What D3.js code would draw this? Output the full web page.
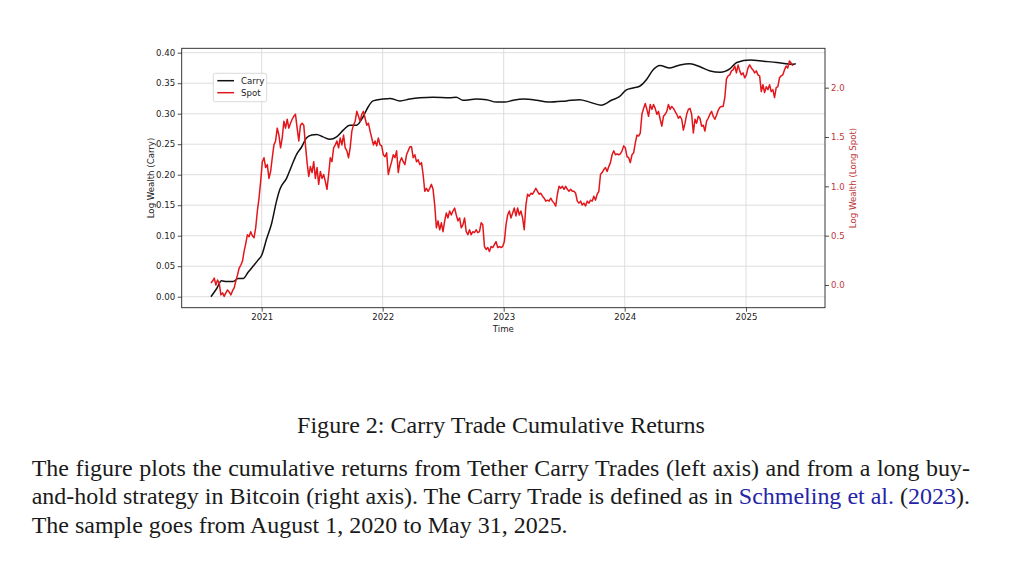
<!DOCTYPE html>
<html>
<head>
<meta charset="utf-8">
<script src="https://cdn.jsdelivr.net/npm/d3@7"></script>
<style>
  body { margin: 0; background: #fff; }
</style>
</head>
<body>
<svg id="chart" width="1024" height="570"></svg>
<script>
// carry trade log wealth (left axis)
const carry = [
  ["2020-08-01", 0.000], ["2020-08-18", 0.013], ["2020-09-02", 0.026], ["2020-09-17", 0.025],
  ["2020-10-07", 0.025], ["2020-10-22", 0.030], ["2020-11-06", 0.030], ["2020-11-21", 0.040],
  ["2020-12-06", 0.050], ["2020-12-21", 0.060], ["2021-01-01", 0.068], ["2021-01-16", 0.095],
  ["2021-01-31", 0.120], ["2021-02-15", 0.157], ["2021-02-25", 0.176], ["2021-03-17", 0.194],
  ["2021-04-01", 0.214], ["2021-04-16", 0.233], ["2021-05-01", 0.245], ["2021-05-16", 0.260],
  ["2021-06-01", 0.265], ["2021-06-16", 0.266], ["2021-07-05", 0.262], ["2021-07-26", 0.258],
  ["2021-08-15", 0.262], ["2021-09-04", 0.273], ["2021-09-24", 0.281], ["2021-10-14", 0.281],
  ["2021-11-03", 0.295], ["2021-11-18", 0.311], ["2021-12-03", 0.321], ["2022-01-02", 0.324],
  ["2022-01-23", 0.325], ["2022-02-22", 0.321], ["2022-03-24", 0.324], ["2022-04-23", 0.326],
  ["2022-06-02", 0.327], ["2022-07-22", 0.326], ["2022-08-11", 0.327], ["2022-08-31", 0.322],
  ["2022-10-11", 0.324], ["2022-11-10", 0.323], ["2022-12-10", 0.319], ["2023-01-04", 0.319],
  ["2023-01-30", 0.322], ["2023-03-01", 0.324], ["2023-04-10", 0.322], ["2023-05-15", 0.319],
  ["2023-07-09", 0.321], ["2023-08-18", 0.323], ["2023-09-17", 0.319], ["2023-10-22", 0.314],
  ["2023-11-22", 0.322], ["2023-12-16", 0.328], ["2024-01-06", 0.339], ["2024-01-26", 0.342],
  ["2024-02-15", 0.345], ["2024-03-07", 0.356], ["2024-03-27", 0.372], ["2024-04-16", 0.379],
  ["2024-05-16", 0.375], ["2024-06-16", 0.380], ["2024-07-16", 0.382], ["2024-08-15", 0.377],
  ["2024-09-15", 0.370], ["2024-10-15", 0.368], ["2024-11-14", 0.374], ["2024-12-04", 0.384],
  ["2025-01-14", 0.388], ["2025-02-23", 0.386], ["2025-04-04", 0.384], ["2025-05-19", 0.381],
  ["2025-05-31", 0.382]
];

// long spot log wealth (right axis), one reading every 5 days from spotStart
const spotStart = "2020-08-01";
const spotStepDays = 5;
const spot = [
  0.02, 0.04, 0.07, 0.00, 0.05, 0.02, -0.10, -0.08, -0.115, -0.08, -0.05, -0.07, -0.10, -0.06,
  -0.03, 0.04, 0.10, 0.17, 0.20, 0.24, 0.34, 0.42, 0.51, 0.49, 0.54, 0.50, 0.48, 0.58, 0.75,
  0.88, 1.05, 1.25, 1.29, 1.19, 1.22, 1.08, 1.15, 1.29, 1.42, 1.46, 1.59, 1.52, 1.39, 1.49,
  1.66, 1.59, 1.68, 1.59, 1.64, 1.68, 1.71, 1.73, 1.59, 1.46, 1.62, 1.64,
  1.62, 1.42, 1.24, 1.10, 1.20, 1.14, 1.25, 1.08, 1.19, 1.02, 1.15, 1.08, 1.12, 1.05, 0.97,
  1.12, 1.29, 1.25, 1.39, 1.42, 1.46, 1.39, 1.49, 1.42, 1.52, 1.39, 1.36, 1.29, 1.39, 1.56,
  1.62, 1.66, 1.76, 1.71, 1.66, 1.73, 1.76, 1.69, 1.62, 1.64, 1.56, 1.49, 1.42, 1.46, 1.41,
  1.49, 1.42, 1.41, 1.32, 1.30, 1.34, 1.12, 1.19, 1.25, 1.32, 1.29, 1.36, 1.14, 1.25, 1.29,
  1.25, 1.22, 1.32, 1.36, 1.40, 1.40,
  1.29, 1.32, 1.25, 1.27, 1.22, 1.24, 1.12, 0.95, 0.98, 0.95, 0.98, 1.02, 0.97, 0.81, 0.58,
  0.65, 0.56, 0.63, 0.54, 0.65, 0.73, 0.68, 0.75, 0.71, 0.75, 0.78, 0.71, 0.65, 0.68, 0.58,
  0.61, 0.68, 0.54, 0.51, 0.56, 0.51, 0.54, 0.53, 0.56, 0.53, 0.54, 0.63, 0.61, 0.39, 0.36,
  0.38, 0.34, 0.39, 0.38, 0.41, 0.44, 0.38, 0.39, 0.38, 0.39, 0.44, 0.61, 0.71, 0.75, 0.68,
  0.73, 0.78, 0.70, 0.78,
  0.71, 0.75, 0.68, 0.56, 0.81, 0.92, 0.90, 0.93, 0.92, 0.95, 0.98, 0.95, 0.92, 0.93, 0.90,
  0.88, 0.85, 0.86, 0.85, 0.88, 0.85, 0.83, 0.80, 0.92, 1.00, 0.98, 1.00, 0.97, 1.00, 0.97,
  0.95, 0.97, 0.95, 0.95, 0.93, 0.85, 0.83, 0.85, 0.81, 0.83, 0.80, 0.85, 0.83, 0.86, 0.85,
  0.90, 0.86, 0.92, 0.95, 1.12, 1.14, 1.17, 1.19, 1.15, 1.20, 1.24, 1.32, 1.36, 1.32, 1.33,
  1.32, 1.33, 1.36,
  1.41, 1.39, 1.30, 1.29, 1.24, 1.32, 1.34, 1.44, 1.52, 1.51, 1.54, 1.73, 1.79, 1.84, 1.78,
  1.71, 1.83, 1.78, 1.83, 1.79, 1.73, 1.76, 1.68, 1.61, 1.71, 1.73, 1.76, 1.83, 1.78, 1.81,
  1.79, 1.76, 1.73, 1.69, 1.71, 1.68, 1.57, 1.64, 1.73, 1.78, 1.79, 1.73, 1.54, 1.68, 1.64,
  1.71, 1.69, 1.61, 1.62, 1.56, 1.66, 1.69, 1.73, 1.76, 1.71, 1.68, 1.72, 1.77, 1.80, 1.81,
  1.81, 1.90, 2.09,
  2.12, 2.13, 2.17, 2.18, 2.22, 2.15, 2.23, 2.17, 2.13, 2.15, 2.10, 2.13, 2.20, 2.23, 2.20,
  2.18, 2.15, 2.17, 2.13, 2.12, 1.96, 2.03, 1.95, 2.01, 1.98, 2.03, 1.96, 1.98, 1.90, 2.00,
  2.01, 2.10, 2.12, 2.13, 2.18, 2.22, 2.20, 2.27, 2.25, 2.22
];

const sampleRange = ["2020-08-01", "2025-05-31"];
const yearTicks = ["2021-01-01", "2022-01-01", "2023-01-01", "2024-01-01", "2025-01-01"];
const carryTicks = [0, 0.05, 0.10, 0.15, 0.20, 0.25, 0.30, 0.35, 0.40];
const spotTicks = [0, 0.5, 1.0, 1.5, 2.0];
const carryDomain = [-0.018, 0.4072];
const spotDomain = [-0.230, 2.399];

const seriesNames = ["Carry", "Spot"];
const captionTitle = "Figure 2: Carry Trade Cumulative Returns";
// each line is a list of [text, colour] runs
const captionLines = [
  [["The figure plots the cumulative returns from Tether Carry Trades (left axis) and from a long buy-", "#1a1a1a"]],
  [["and-hold strategy in Bitcoin (right axis). The Carry Trade is defined as in ", "#1a1a1a"],
   ["Schmeling et al.", "#2424a8"], [" (", "#1a1a1a"], ["2023", "#2424a8"], [").", "#1a1a1a"]],
  [["The sample goes from August 1, 2020 to May 31, 2025.", "#1a1a1a"]]
];

const parse = d3.timeParse("%Y-%m-%d");
const black = "#111";
const red = "#e3161b";
const redText = "#c0373a";
const font = "DejaVu Sans";

const plot = { left: 181.7, right: 825, top: 48.3, bottom: 307.7 };
const svg = d3.select("#chart");

const carryData = carry.map(d => ({ date: parse(d[0]), value: d[1] }));
const start = parse(spotStart);
const spotData = spot.map((v, i) => ({ date: d3.timeDay.offset(start, i * spotStepDays), value: v }));

// matplotlib style 5% margin around the sample
const t0 = parse(sampleRange[0]), t1 = parse(sampleRange[1]);
const pad = (t1 - t0) * 0.05;
const x = d3.scaleTime()
  .domain([new Date(+t0 - pad), new Date(+t1 + pad)])
  .range([plot.left, plot.right]);
const yL = d3.scaleLinear().domain(carryDomain).range([plot.bottom, plot.top]);
const yR = d3.scaleLinear().domain(spotDomain).range([plot.bottom, plot.top]);

// grid
const grid = svg.append("g").attr("stroke", "#d6d6d6").attr("stroke-width", 0.8);
grid.selectAll(".vg").data(yearTicks.map(parse)).enter().append("line")
  .attr("x1", d => x(d)).attr("x2", d => x(d))
  .attr("y1", plot.top).attr("y2", plot.bottom);
grid.selectAll(".hg").data(carryTicks).enter().append("line")
  .attr("x1", plot.left).attr("x2", plot.right)
  .attr("y1", d => yL(d)).attr("y2", d => yL(d));

// lines
const clip = svg.append("clipPath").attr("id", "clip").append("rect")
  .attr("x", plot.left).attr("y", plot.top)
  .attr("width", plot.right - plot.left).attr("height", plot.bottom - plot.top);

svg.append("path")
  .datum(carryData)
  .attr("fill", "none")
  .attr("stroke", black)
  .attr("stroke-width", 1.5)
  .attr("stroke-linejoin", "round")
  .attr("clip-path", "url(#clip)")
  .attr("d", d3.line().x(d => x(d.date)).y(d => yL(d.value)).curve(d3.curveMonotoneX));

svg.append("path")
  .datum(spotData)
  .attr("fill", "none")
  .attr("stroke", red)
  .attr("stroke-width", 1.5)
  .attr("stroke-linejoin", "round")
  .attr("clip-path", "url(#clip)")
  .attr("d", d3.line().x(d => x(d.date)).y(d => yR(d.value)));

// frame
svg.append("rect")
  .attr("x", plot.left).attr("y", plot.top)
  .attr("width", plot.right - plot.left).attr("height", plot.bottom - plot.top)
  .attr("fill", "none").attr("stroke", "#222").attr("stroke-width", 0.9);

function styleAxis(g, color) {
  g.select(".domain").remove();
  g.selectAll(".tick line").attr("stroke", "#222").attr("stroke-width", 0.8);
  g.selectAll(".tick text").attr("fill", color).attr("font-family", font).attr("font-size", 8.6);
}

svg.append("g")
  .attr("transform", `translate(0,${plot.bottom})`)
  .call(d3.axisBottom(x).tickValues(yearTicks.map(parse)).tickFormat(d3.timeFormat("%Y"))
    .tickSize(4).tickPadding(2.5))
  .call(g => styleAxis(g, "#222"));

svg.append("g")
  .attr("transform", `translate(${plot.left},0)`)
  .call(d3.axisLeft(yL).tickValues(carryTicks).tickFormat(d3.format(".2f"))
    .tickSize(4).tickPadding(2.5))
  .call(g => styleAxis(g, "#222"));

svg.append("g")
  .attr("transform", `translate(${plot.right},0)`)
  .call(d3.axisRight(yR).tickValues(spotTicks).tickFormat(d3.format(".1f"))
    .tickSize(4).tickPadding(2))
  .call(g => styleAxis(g, redText));

// axis labels
svg.append("text")
  .attr("x", (plot.left + plot.right) / 2).attr("y", 332)
  .attr("text-anchor", "middle").attr("font-family", font).attr("font-size", 8.6)
  .attr("fill", "#222").text("Time");

svg.append("text")
  .attr("transform", `translate(150.5,${(plot.top + plot.bottom) / 2}) rotate(-90)`)
  .attr("text-anchor", "middle").attr("dy", "0.35em").attr("font-family", font).attr("font-size", 8.6)
  .attr("fill", "#222").text("Log Wealth (Carry)");

svg.append("text")
  .attr("transform", `translate(853,${(plot.top + plot.bottom) / 2}) rotate(-90)`)
  .attr("text-anchor", "middle").attr("dy", "0.35em").attr("font-family", font).attr("font-size", 8.6)
  .attr("fill", redText).text("Log Wealth (Long Spot)");

// legend
const legend = svg.append("g").attr("transform", "translate(213.3,73.3)");
legend.append("rect")
  .attr("width", 53.4).attr("height", 28.4).attr("rx", 2)
  .attr("fill", "#fff").attr("fill-opacity", 0.85)
  .attr("stroke", "#cfcfcf").attr("stroke-width", 0.8);
const items = legend.selectAll(".item").data(seriesNames).enter().append("g")
  .attr("transform", (d, i) => `translate(0,${7.4 + i * 12})`);
items.append("line")
  .attr("x1", 4).attr("x2", 20.7)
  .attr("stroke", (d, i) => i === 0 ? black : red).attr("stroke-width", 1.5);
items.append("text")
  .attr("x", 27.7).attr("dy", "0.35em")
  .attr("font-family", font).attr("font-size", 8.6).attr("fill", "#222")
  .text(d => d);

// caption below the figure
const serif = "Liberation Serif";
const title = svg.append("text")
  .attr("x", 501).attr("y", 433.3).attr("text-anchor", "middle")
  .attr("font-family", serif).attr("font-size", 24).attr("fill", "#1a1a1a")
  .text(captionTitle);
const tw = title.node().getComputedTextLength();
title.attr("font-size", 24 * 408 / tw);

const lineY = [475.5, 504.3, 532.7];
const textLeft = 31.7, textRight = 970;
const texts = captionLines.map((runs, i) => {
  const t = svg.append("text")
    .attr("x", textLeft).attr("y", lineY[i])
    .attr("font-family", serif).attr("font-size", 24);
  runs.forEach(r => t.append("tspan").attr("fill", r[1]).text(r[0]));
  return t;
});
// size the paragraph from the last (unjustified) line, then justify the others
const lastW = texts[2].node().getComputedTextLength();
const bodySize = 24 * 536 / lastW;
texts.forEach(t => t.attr("font-size", bodySize));
texts.slice(0, 2).forEach((t, i) => {
  const w = t.node().getComputedTextLength();
  const spaces = captionLines[i].map(r => r[0]).join("").split(" ").length - 1;
  t.attr("word-spacing", (textRight - textLeft - w) / spaces);
});
</script>
</body>
</html>
